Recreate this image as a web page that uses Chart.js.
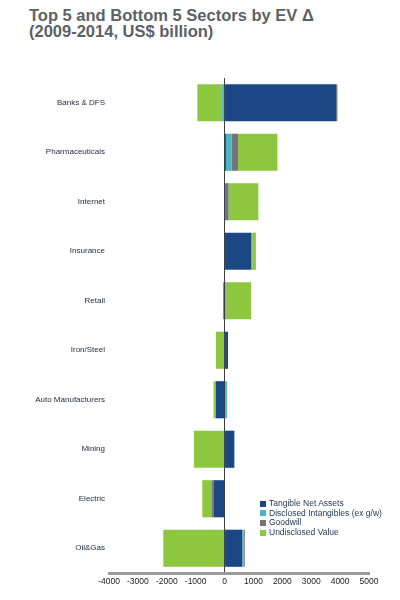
<!DOCTYPE html>
<html>
<head>
<meta charset="utf-8">
<script src="https://cdn.jsdelivr.net/npm/chart.js@4.4.1/dist/chart.umd.min.js"></script>
<style>
  body { margin: 0; background: #fff; font-family: "Liberation Sans", Arial, sans-serif; }
  #wrap { position: relative; width: 400px; height: 600px; }
  #title { position: absolute; left: 29px; top: 7px; margin: 0; font-size: 16.5px; line-height: 16px; font-weight: bold; color: #5c6167; }
  #legend { position: absolute; left: 260px; top: 499px; font-size: 8.5px; color: #1f3350; }
  #legend div { height: 9.7px; line-height: 9.7px; white-space: nowrap; }
  #legend span { display: inline-block; width: 6px; height: 6px; margin-right: 3px; vertical-align: -0.5px; }
  canvas { position: absolute; left: 0; top: 0; }
</style>
</head>
<body>
<div id="wrap">
  <h1 id="title">Top 5 and Bottom 5 Sectors by EV &Delta;<br>(2009-2014, US$ billion)</h1>
  <canvas id="chart" width="400" height="600"></canvas>
  <div id="legend"></div>
</div>
<script>
var sectors = ['Banks & DFS', 'Pharmaceuticals', 'Internet', 'Insurance', 'Retail', 'Iron/Steel', 'Auto Manufacturers', 'Mining', 'Electric', 'Oil&Gas'];
var tangible = [3860, 50, 40, 920, -40, 120, -300, 340, -370, 610];
var intangibles = [-80, 200, 10, 35, 50, 0, 80, 0, 0, 50];
var goodwill = [45, 220, 90, 0, 10, 0, 10, 0, -80, 40];
var undisclosed = [-860, 1360, 1030, 130, 860, -300, -80, -1060, -320, -2120];
var seriesNames = ['Tangible Net Assets', 'Disclosed Intangibles (ex g/w)', 'Goodwill', 'Undisclosed Value'];
var seriesColors = ['#1c4785', '#4cb4c9', '#737577', '#8dc63f'];
var xTicks = [-4000, 5000, 1000]; // min, max, step

var allSeries = [tangible, intangibles, goodwill, undisclosed];
var datasets = [];
for (var i = 0; i < allSeries.length; i++) {
  datasets.push({
    label: seriesNames[i],
    data: allSeries[i],
    backgroundColor: seriesColors[i],
    barPercentage: 0.75,
    categoryPercentage: 1
  });
}

var ctx = document.getElementById('chart').getContext('2d');
var chart = new Chart(ctx, {
  type: 'bar',
  data: { labels: sectors, datasets: datasets },
  options: {
    indexAxis: 'y',
    responsive: false,
    animation: false,
    devicePixelRatio: 1,
    layout: { padding: { top: 78, right: 31, bottom: 7, left: 0 } },
    plugins: { legend: { display: false }, tooltip: { enabled: false } },
    scales: {
      x: {
        stacked: true,
        min: xTicks[0],
        max: xTicks[1],
        ticks: {
          stepSize: xTicks[2],
          color: '#222',
          font: { family: 'Liberation Sans', size: 8.5 },
          padding: 4,
          callback: function (v) { return String(v); }
        },
        grid: {
          drawTicks: false,
          color: function (c) { return c.tick && c.tick.value === 0 ? '#3a3f45' : 'rgba(0,0,0,0)'; },
          lineWidth: 1
        },
        border: { color: '#9a9a9a', width: 3 },
        afterFit: function (scale) { scale.height = 20; }
      },
      y: {
        stacked: true,
        ticks: {
          color: '#1a2842',
          font: { family: 'Liberation Sans', size: 8 },
          padding: 4
        },
        grid: { display: false, drawTicks: false },
        border: { display: false },
        afterFit: function (scale) { scale.width = 109; }
      }
    }
  }
});

var legend = document.getElementById('legend');
for (var j = 0; j < seriesNames.length; j++) {
  var row = document.createElement('div');
  row.innerHTML = '<span style="background:' + seriesColors[j] + '"></span>' + seriesNames[j];
  legend.appendChild(row);
}
</script>
</body>
</html>
